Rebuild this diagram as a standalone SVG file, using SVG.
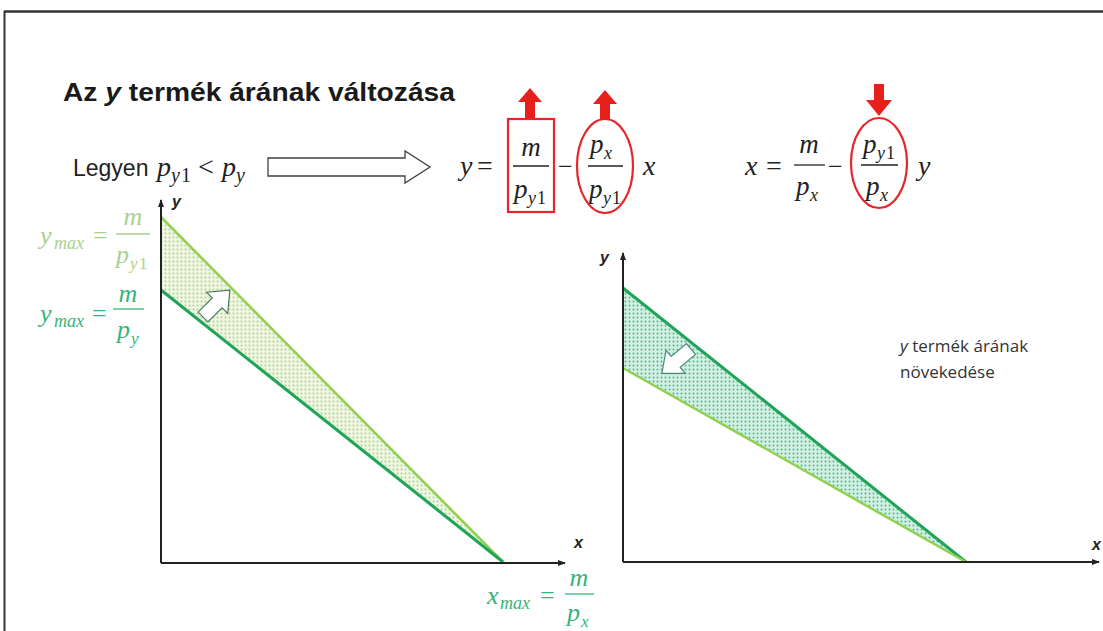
<svg xmlns="http://www.w3.org/2000/svg" width="1103" height="631" viewBox="0 0 1103 631">
<defs>
<pattern id="dotL" width="4" height="4" patternUnits="userSpaceOnUse">
<rect width="4" height="4" fill="#eef7e0"/>
<circle cx="1.5" cy="1.5" r="0.9" fill="#a9d18e"/>
</pattern>
<pattern id="dotR" width="4" height="4" patternUnits="userSpaceOnUse">
<rect width="4" height="4" fill="#d3efe2"/>
<circle cx="1.5" cy="1.5" r="0.95" fill="#45b88a"/>
</pattern>
<marker id="ah" markerWidth="8" markerHeight="8" refX="7" refY="4" orient="auto" markerUnits="userSpaceOnUse">
<path d="M0,1 L8,4 L0,7 Z" fill="#222"/>
</marker>
<path id="hollow" d="M0,-7 L20,-7 L20,-15 L38,0 L20,15 L20,7 L0,7 Z"/>
</defs>
<style>
.m{font-family:"Liberation Serif",serif;font-style:italic;fill:#222}
.mn{font-family:"Liberation Serif",serif;fill:#222}
.s{font-family:"Liberation Sans",sans-serif;fill:#222}
.ax{stroke:#222;stroke-width:2;fill:none}
.lab{font-family:"Liberation Sans",sans-serif;font-style:italic;font-weight:bold;font-size:16px;fill:#222}
.red{stroke:#e5262b;stroke-width:2.2;fill:none}
.rf{fill:#e8201c}
.lgt{fill:#a9d18e}
.dgt{fill:#36b37b}
</style>
<rect width="1103" height="631" fill="#ffffff"/>
<g id="frame">
<line x1="4" y1="11.5" x2="1103" y2="11.5" stroke="#333" stroke-width="2.5"/>
<line x1="4.5" y1="11" x2="4.5" y2="631" stroke="#333" stroke-width="2"/>
</g>
<g id="title">
<text x="63" y="101" font-family="Liberation Sans, sans-serif" font-weight="bold" font-size="26" fill="#1a1a1a" textLength="392" lengthAdjust="spacingAndGlyphs">Az <tspan font-style="italic">y</tspan> termék árának változása</text>
</g>
<g id="condition">
<text x="73" y="176" class="s" font-size="23">Legyen</text>
<text x="157" y="176" class="m" font-size="28">p</text>
<text x="171" y="182" class="m" font-size="20">y</text>
<text x="181" y="182" class="mn" font-size="20">1</text>
<text x="198" y="176" class="mn" font-size="28">&lt;</text>
<text x="222" y="176" class="m" font-size="28">p</text>
<text x="236" y="182" class="m" font-size="20">y</text>
</g>
<g id="bigarrow">
<polygon points="268,158 405,158 405,151 430,167 405,183 405,176 268,176" fill="#fff" stroke="#404040" stroke-width="1.3"/>
</g>
<g id="formula1">
<text x="460" y="175" class="m" font-size="28">y</text>
<text x="477" y="175" class="mn" font-size="28">=</text>
<text x="531" y="156" class="m" font-size="27" text-anchor="middle">m</text>
<line x1="513" y1="166" x2="549" y2="166" stroke="#222" stroke-width="1.3"/>
<text x="514" y="198" class="m" font-size="27">p</text>
<text x="528" y="204" class="m" font-size="18">y</text>
<text x="537" y="204" class="mn" font-size="18">1</text>
<rect x="508" y="119" width="46" height="93" class="red"/>
<text x="558" y="175" class="mn" font-size="26">−</text>
<text x="590" y="153" class="m" font-size="27">p</text>
<text x="604" y="159" class="m" font-size="18">x</text>
<line x1="588" y1="166" x2="623" y2="166" stroke="#222" stroke-width="1.3"/>
<text x="589" y="198" class="m" font-size="27">p</text>
<text x="603" y="204" class="m" font-size="18">y</text>
<text x="612" y="204" class="mn" font-size="18">1</text>
<ellipse cx="605" cy="166" rx="28" ry="47" class="red"/>
<text x="643" y="175" class="m" font-size="28">x</text>
<polygon points="525,118 535,118 535,102 542,102 530,88 518,102 525,102" class="rf"/>
<polygon points="600,120 610,120 610,104 617,104 605,90 593,104 600,104" class="rf"/>
</g>
<g id="formula2">
<text x="745" y="175" class="m" font-size="28">x</text>
<text x="766" y="175" class="mn" font-size="28">=</text>
<text x="809" y="153" class="m" font-size="27" text-anchor="middle">m</text>
<line x1="794" y1="165" x2="825" y2="165" stroke="#222" stroke-width="1.3"/>
<text x="796" y="195" class="m" font-size="27">p</text>
<text x="810" y="201" class="m" font-size="18">x</text>
<text x="828" y="175" class="mn" font-size="26">−</text>
<text x="863" y="153" class="m" font-size="27">p</text>
<text x="877" y="159" class="m" font-size="18">y</text>
<text x="886" y="159" class="mn" font-size="18">1</text>
<line x1="861" y1="165" x2="898" y2="165" stroke="#222" stroke-width="1.3"/>
<text x="866" y="195" class="m" font-size="27">p</text>
<text x="880" y="201" class="m" font-size="18">x</text>
<ellipse cx="879" cy="163" rx="28" ry="45" class="red"/>
<text x="918" y="175" class="m" font-size="28">y</text>
<polygon points="874,84 884,84 884,100 892,100 879,116 866,100 874,100" class="rf"/>
</g>
<g id="leftchart">
<polygon points="161,217 503,562 161,290" fill="url(#dotL)"/>
<line x1="161" y1="217" x2="503" y2="562" stroke="#92d050" stroke-width="2.5"/>
<line x1="161" y1="290" x2="503" y2="562" stroke="#1fa55a" stroke-width="3"/>
<use href="#hollow" transform="translate(203,317) rotate(-45)" fill="#fff" stroke="#4a7a60" stroke-width="1.2"/>
<line x1="161" y1="563" x2="161" y2="200" class="ax" marker-end="url(#ah)"/>
<line x1="161" y1="563" x2="565" y2="563" class="ax" marker-end="url(#ah)"/>
<text x="172" y="207" class="lab">y</text>
<text x="574" y="548" class="lab">x</text>
</g>
<g id="labelYmax1">
<text x="40" y="244" class="m lgt" font-size="26">y</text>
<text x="54" y="249" class="m lgt" font-size="18">max</text>
<text x="93" y="244" class="mn lgt" font-size="26">=</text>
<text x="133" y="225" class="m lgt" font-size="26" text-anchor="middle">m</text>
<line x1="116" y1="234" x2="150" y2="234" stroke="#a9d18e" stroke-width="1.3"/>
<text x="116" y="263" class="m lgt" font-size="26">p</text>
<text x="130" y="269" class="m lgt" font-size="17">y</text>
<text x="139" y="269" class="mn lgt" font-size="17">1</text>
</g>
<g id="labelYmax2">
<text x="40" y="322" class="m dgt" font-size="26">y</text>
<text x="54" y="327" class="m dgt" font-size="18">max</text>
<text x="92" y="322" class="mn dgt" font-size="26">=</text>
<text x="128" y="302" class="m dgt" font-size="26" text-anchor="middle">m</text>
<line x1="113" y1="309" x2="144" y2="309" stroke="#36b37b" stroke-width="1.3"/>
<text x="117" y="338" class="m dgt" font-size="26">p</text>
<text x="131" y="344" class="m dgt" font-size="17">y</text>
</g>
<g id="labelXmax">
<text x="487" y="604" class="m dgt" font-size="26">x</text>
<text x="500" y="609" class="m dgt" font-size="18">max</text>
<text x="540" y="604" class="mn dgt" font-size="26">=</text>
<text x="579" y="586" class="m dgt" font-size="26" text-anchor="middle">m</text>
<line x1="565" y1="594" x2="594" y2="594" stroke="#36b37b" stroke-width="1.3"/>
<text x="567" y="621" class="m dgt" font-size="26">p</text>
<text x="581" y="627" class="m dgt" font-size="17">x</text>
</g>
<g id="rightchart">
<polygon points="623,288 966,562 623,368" fill="url(#dotR)"/>
<line x1="623" y1="288" x2="966" y2="562" stroke="#1fa55a" stroke-width="3"/>
<line x1="623" y1="368" x2="966" y2="562" stroke="#92d050" stroke-width="2.5"/>
<use href="#hollow" transform="translate(691,349) rotate(140)" fill="#fff" stroke="#4a8a80" stroke-width="1.2"/>
<line x1="623" y1="562" x2="623" y2="253" class="ax" marker-end="url(#ah)"/>
<line x1="623" y1="562" x2="1099" y2="562" class="ax" marker-end="url(#ah)"/>
<text x="600" y="263" class="lab">y</text>
<text x="1092" y="550" class="lab">x</text>
</g>
<g id="note">
<text x="900" y="352" font-family="Open Sans, sans-serif" font-size="17" fill="#333"><tspan font-style="italic">y</tspan> termék árának</text>
<text x="900" y="378" font-family="Open Sans, sans-serif" font-size="17" fill="#333">növekedése</text>
</g>
</svg>
